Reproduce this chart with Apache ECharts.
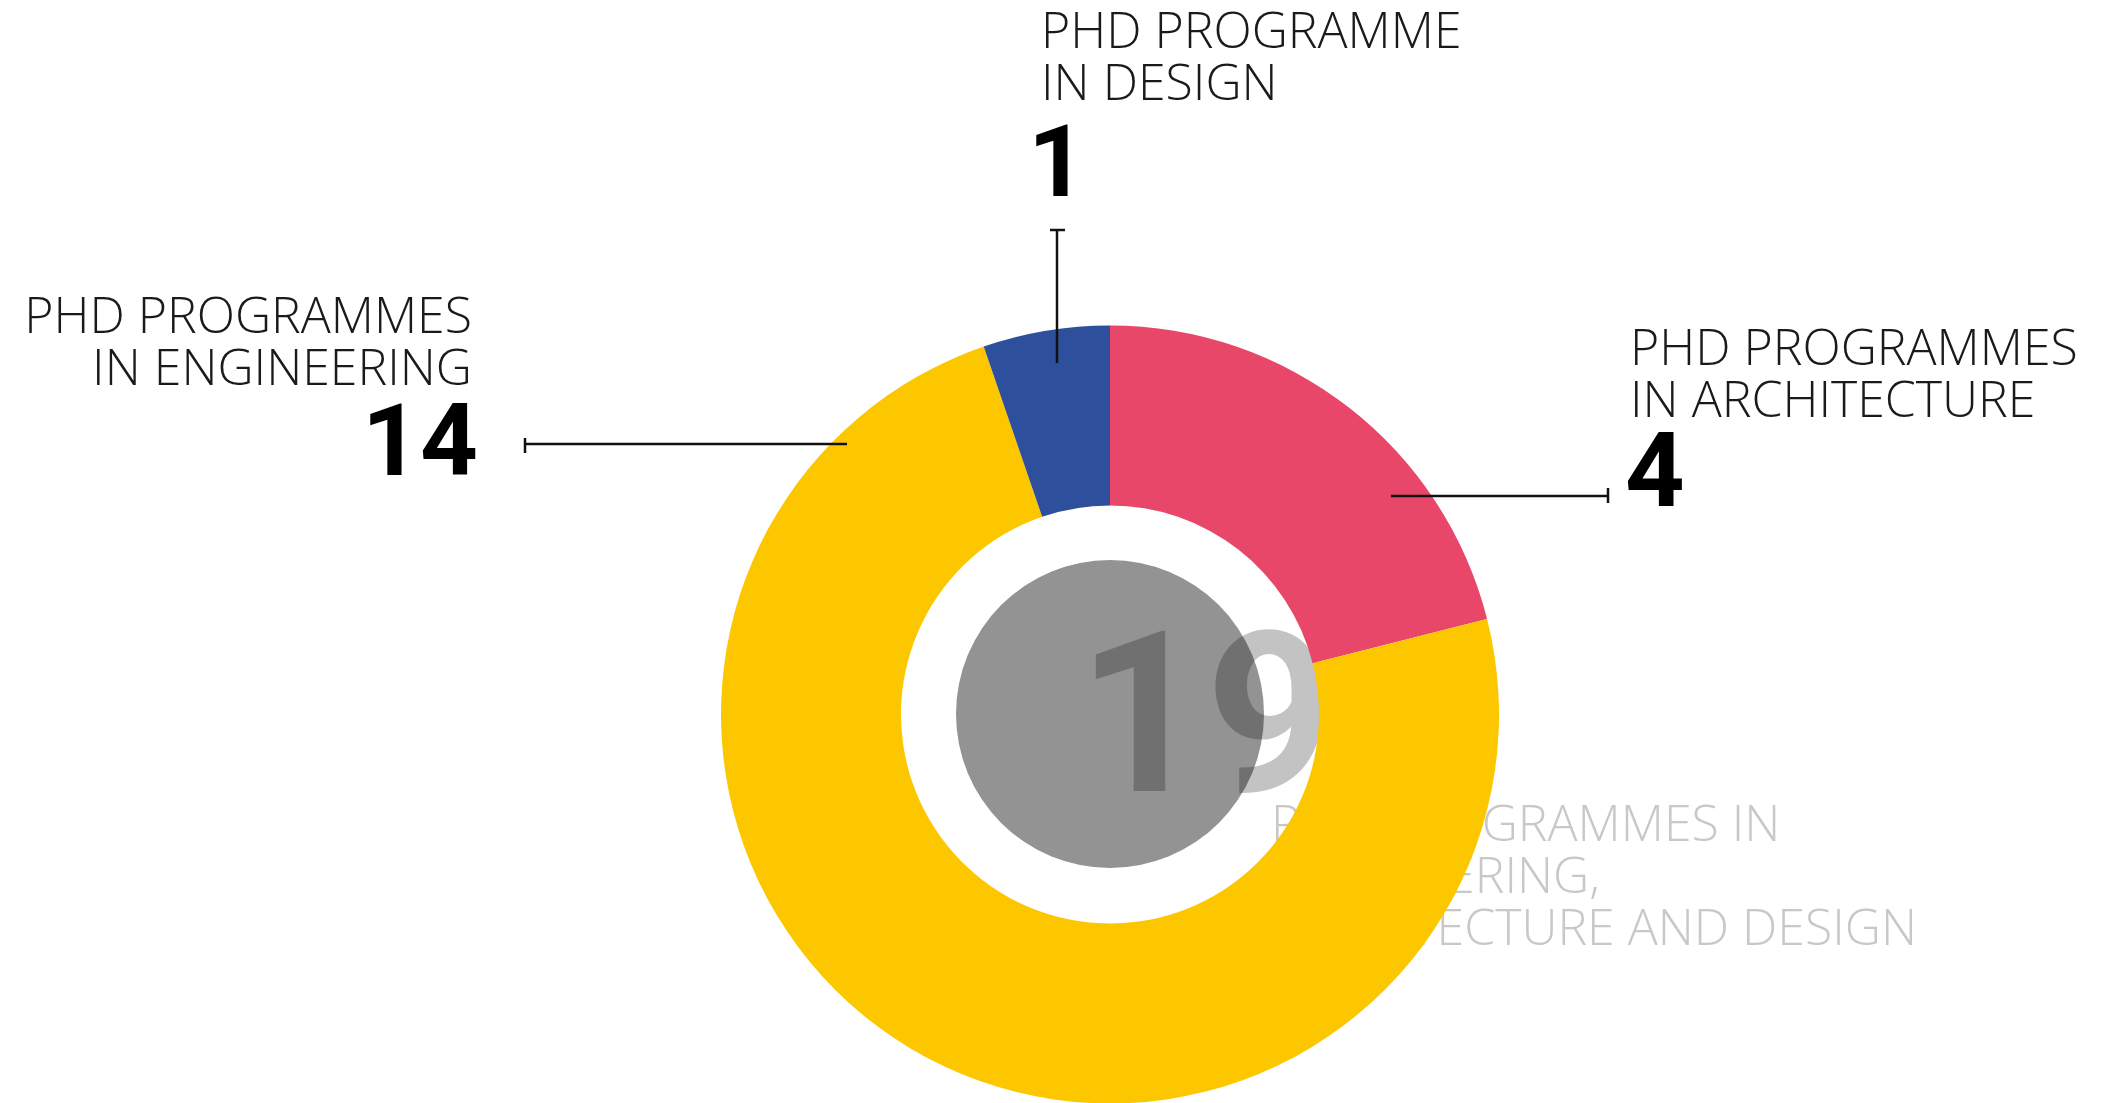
<!DOCTYPE html>
<html>
<head>
<meta charset="utf-8">
<script src="https://cdn.jsdelivr.net/npm/echarts@6/dist/echarts.min.js"></script>
<style>
html,body{margin:0;padding:0;background:#fff;}
#chart{width:2102px;height:1103px;}
</style>
</head>
<body>
<div id="chart"></div>
<script>
// ---- data ----
var categories = ['PHD PROGRAMMES\nIN ARCHITECTURE', 'PHD PROGRAMMES\nIN ENGINEERING', 'PHD PROGRAMME\nIN DESIGN'];
var values = [4, 14, 1];
var colors = ['#e8476a', '#fdc700', '#2e4f9b'];
var totalLabel = 'PHD PROGRAMMES IN\nENGINEERING,\nARCHITECTURE AND DESIGN';

var total = values.reduce(function (a, b) { return a + b; }, 0);

var labelFont = '300 50px "Open Sans", sans-serif';
var numFont = 'bold 101px Roboto, "Liberation Sans", sans-serif';
var ink = '#1a1a1a';

function txt(text, x, y, font, fill, align, z) {
  return {
    type: 'text', x: x, y: y, z: z == null ? 20 : z, silent: true,
    style: {
      text: text, font: font, fill: fill,
      textAlign: align, align: align,
      textVerticalAlign: 'top', verticalAlign: 'top',
      lineHeight: 52
    }
  };
}
function ln(x1, y1, x2, y2) {
  return { type: 'line', z: 20, silent: true,
    shape: { x1: x1, y1: y1, x2: x2, y2: y2 },
    style: { stroke: '#111', lineWidth: 2.5 } };
}

var chart = echarts.init(document.getElementById('chart'), null, { renderer: 'canvas' });
chart.setOption({
  backgroundColor: '#fff',
  animation: false,
  graphic: { elements: [
    // centre disc and total
    { type: 'circle', z: 0, silent: true, shape: { cx: 1110, cy: 714, r: 154 }, style: { fill: '#939393' } },
    { type: 'text', z: 1, silent: true, x: 1206, y: 735,
      style: { text: String(total), font: 'bold 224px Roboto, "Liberation Sans", sans-serif',
        fill: 'rgba(0,0,0,0.235)', textAlign: 'center', align: 'center',
        textVerticalAlign: 'middle', verticalAlign: 'middle' } },
    txt(totalLabel, 1271, 801, labelFont, '#c8c8c8', 'left', 1),
    // design
    txt(categories[2], 1041, 8, labelFont, ink, 'left'),
    txt(String(values[2]), 1028, 145, numFont, '#000', 'left'),
    ln(1057, 230, 1057, 363), ln(1050, 230, 1065, 230),
    // engineering
    txt(categories[1], 472, 293, labelFont, ink, 'right'),
    txt(String(values[1]), 478, 424, numFont, '#000', 'right'),
    ln(525, 444, 847, 444), ln(525, 438, 525, 453),
    // architecture
    txt(categories[0], 1630, 325, labelFont, ink, 'left'),
    txt(String(values[0]), 1625, 454, 'bold 104px Roboto, "Liberation Sans", sans-serif', '#000', 'left'),
    ln(1391, 496, 1608, 496), ln(1608, 488, 1608, 503)
  ] },
  series: [{
    type: 'pie',
    z: 5,
    silent: true,
    center: [1110, 714.5],
    radius: [209, 389],
    startAngle: 90,
    clockwise: true,
    label: { show: false },
    labelLine: { show: false },
    itemStyle: { borderWidth: 0 },
    data: values.map(function (v, i) {
      return { name: categories[i], value: v, itemStyle: { color: colors[i] } };
    })
  }]
});
</script>
</body>
</html>
